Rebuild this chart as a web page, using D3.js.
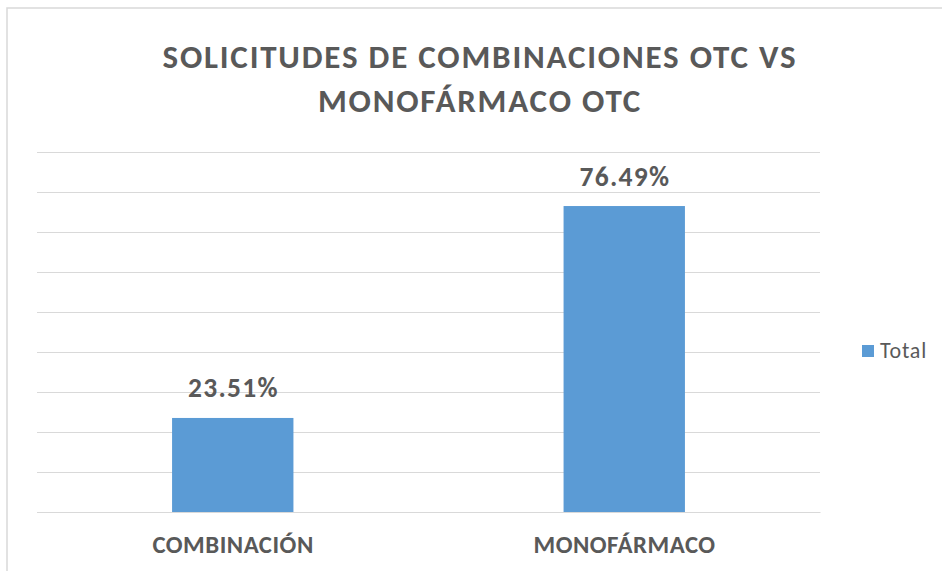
<!DOCTYPE html>
<html lang="es">
<head>
<meta charset="UTF-8">
<title>Solicitudes de combinaciones OTC vs monofármaco OTC</title>
<script src="https://d3js.org/d3.v7.min.js"></script>
<style>
    body { margin: 0; background: #fff; }
    svg text { font-family: Carlito, Calibri, "Liberation Sans Narrow", "Open Sans", sans-serif; fill: #595959; }
</style>
</head>
<body>
<svg width="942" height="571"></svg>
<script>
// data
const categories = ["COMBINACIÓN", "MONOFÁRMACO"];
const values = [23.51, 76.49];
const seriesName = "Total";
const titleLines = ["SOLICITUDES DE COMBINACIONES OTC VS", "MONOFÁRMACO OTC"];
const yTicks = [0, 10, 20, 30, 40, 50, 60, 70, 80, 90];

const W = 942, H = 571;
const plot = {left: 37, right: 820, top: 152, bottom: 512};
const barColor = "#5b9bd5";
const gridColor = "#d9d9d9";

const svg = d3.select("svg");

// outer chart frame (only top and left edges are visible in the crop)
svg.append("path")
    .attr("d", `M7,${H} V8 H${W}`)
    .attr("fill", "none")
    .attr("stroke", gridColor)
    .attr("stroke-width", 1.5);

const x = d3.scaleBand()
    .domain(categories)
    .range([plot.left, plot.right])
    .paddingInner(0.69)
    .paddingOuter(0.345);

const y = d3.scaleLinear()
    .domain([0, 90])
    .range([plot.bottom, plot.top]);

// horizontal gridlines
svg.append("g")
    .attr("transform", `translate(${plot.left},0)`)
    .call(d3.axisLeft(y).tickValues(yTicks).tickSize(-(plot.right - plot.left)).tickFormat(""))
    .call(g => g.select(".domain").remove())
    .call(g => g.selectAll("line").attr("stroke", gridColor).attr("stroke-width", 1));

// bars
svg.selectAll(".bar")
    .data(values)
    .join("rect")
    .attr("class", "bar")
    .attr("x", (d, i) => x(categories[i]))
    .attr("y", d => y(d))
    .attr("width", x.bandwidth())
    .attr("height", d => y(0) - y(d))
    .attr("fill", barColor);

// value labels
svg.selectAll(".val")
    .data(values)
    .join("text")
    .attr("class", "val")
    .attr("x", (d, i) => x(categories[i]) + x.bandwidth() / 2 + 0.7)
    .attr("y", d => y(d) - 20.5)
    .attr("text-anchor", "middle")
    .style("font-size", "27.5px")
    .style("font-weight", "bold")
    .style("letter-spacing", "1.3px")
    .text(d => d.toFixed(2) + "%");

// category axis
svg.append("g")
    .attr("transform", `translate(0,${plot.bottom})`)
    .call(d3.axisBottom(x).tickSize(0))
    .call(g => g.select(".domain").attr("stroke", gridColor))
    .call(g => g.selectAll("text")
        .attr("y", 40.5)
        .attr("dy", 0)
        .attr("dx", 0.3)
        .style("font-size", "24.8px")
        .style("font-weight", "bold")
        .style("letter-spacing", "0.5px")
        .attr("fill", "#595959"));

// title
svg.append("text")
    .attr("text-anchor", "middle")
    .style("font-size", "33px")
    .style("font-weight", "bold")
    .style("letter-spacing", "1.8px")
    .selectAll("tspan")
    .data(titleLines)
    .join("tspan")
    .attr("x", 480)
    .attr("y", (d, i) => 68 + i * 43.5)
    .text(d => d);

// legend
const legend = svg.append("g").attr("transform", "translate(862,345)");
legend.append("rect")
    .attr("width", 12)
    .attr("height", 12)
    .attr("fill", barColor);
legend.append("text")
    .attr("x", 18)
    .attr("y", 12.7)
    .style("font-size", "22px")
    .style("letter-spacing", "0.8px")
    .text(seriesName);
</script>
</body>
</html>
